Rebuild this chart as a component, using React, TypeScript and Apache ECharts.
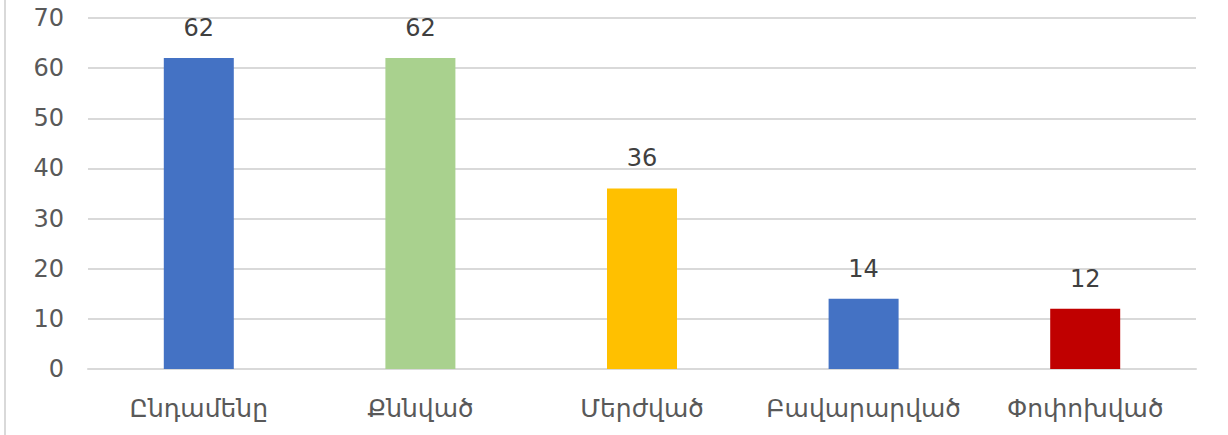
import React, { useEffect, useRef } from "react";
import * as echarts from "echarts";

const categories = ["Ընդամենը", "Քննված", "Մերժված", "Բավարարված", "Փոփոխված"];
const values = [62, 62, 36, 14, 12];
const barColors = ["#4472C4", "#A9D18E", "#FFC000", "#4472C4", "#C00000"];
const yTicks = [0, 10, 20, 30, 40, 50, 60, 70];

const FONT = "'DejaVu Sans', sans-serif";

export default function App() {
  const ref = useRef<HTMLDivElement>(null);
  useEffect(() => {
    document.body.style.margin = "0";
    const chart = echarts.init(ref.current!, null, { renderer: "svg" });
    chart.setOption({
      animation: false,
      backgroundColor: "#ffffff",
      graphic: [
        {
          type: "line",
          shape: { x1: 5, y1: 0, x2: 5, y2: 435 },
          style: { stroke: "#d9d9d9", lineWidth: 2 },
        },
      ],
      grid: { left: 88, right: 32, top: 18, bottom: 66, containLabel: false },
      xAxis: {
        type: "category",
        data: categories,
        axisLine: { show: true, lineStyle: { color: "#d9d9d9", width: 2 } },
        axisTick: { show: false },
        axisLabel: {
          interval: 0,
          color: "#595959",
          fontSize: 25,
          fontFamily: FONT,
          margin: 27,
        },
      },
      yAxis: {
        type: "value",
        min: yTicks[0],
        max: yTicks[yTicks.length - 1],
        interval: 10,
        axisLine: { show: false },
        axisTick: { show: false },
        splitLine: { lineStyle: { color: "#d9d9d9", width: 2 } },
        axisLabel: {
          color: "#595959",
          fontSize: 24,
          fontFamily: FONT,
          margin: 24,
        },
      },
      series: [
        {
          type: "bar",
          barWidth: 70,
          data: values.map((v, i) => ({ value: v, itemStyle: { color: barColors[i] } })),
          label: {
            show: true,
            position: "top",
            distance: 18,
            color: "#404040",
            fontSize: 24,
            fontFamily: FONT,
          },
        },
      ],
    });
    return () => chart.dispose();
  }, []);
  return <div ref={ref} style={{ width: 1228, height: 435 }} />;
}
